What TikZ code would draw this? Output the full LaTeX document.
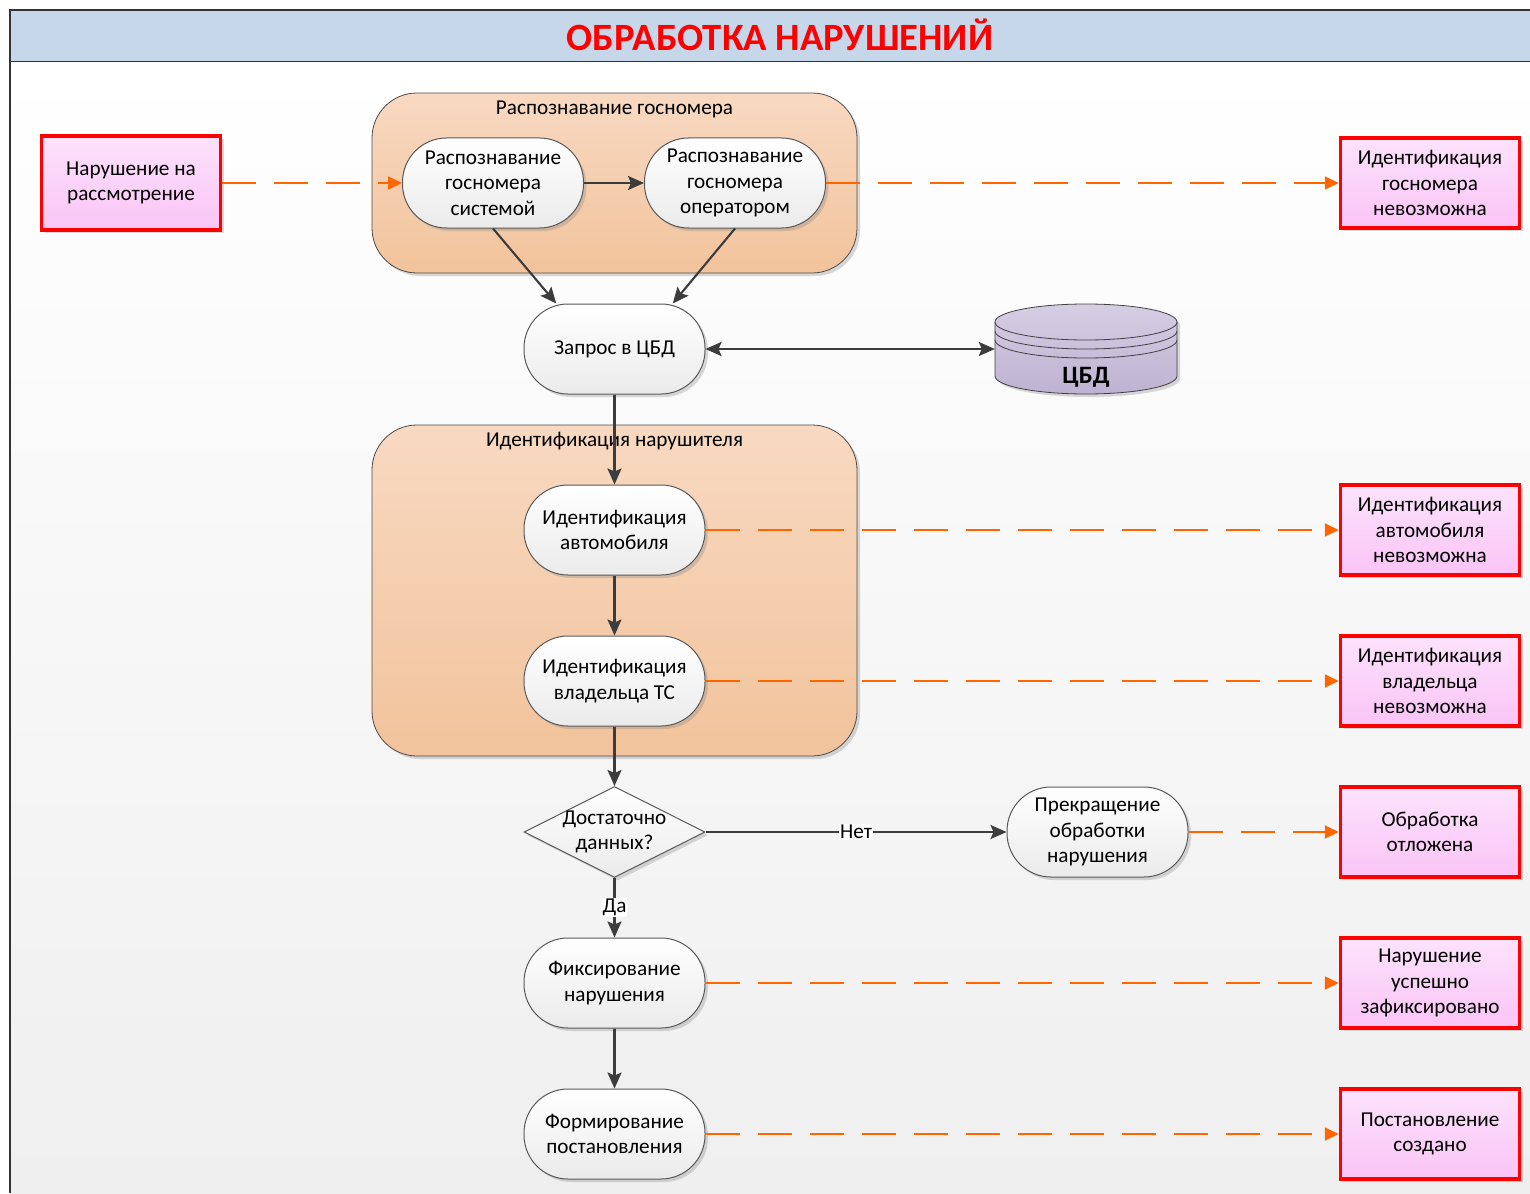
\documentclass[tikz,border=0pt]{standalone}
\usepackage{fontspec}
\setmainfont{Carlito}
\usetikzlibrary{shapes.geometric,arrows.meta,shadows}
\definecolor{titlebg}{RGB}{197,215,232}
\definecolor{peachA}{RGB}{248,217,193}
\definecolor{peachB}{RGB}{242,195,156}
\definecolor{pinkA}{RGB}{252,226,252}
\definecolor{pinkB}{RGB}{250,196,246}
\definecolor{orng}{RGB}{255,102,0}
\definecolor{edgec}{RGB}{60,60,60}
\definecolor{lavA}{RGB}{214,206,228}
\definecolor{lavB}{RGB}{190,178,210}
\definecolor{bgbot}{RGB}{239,239,239}
\begin{document}
\begin{tikzpicture}[x=1pt,y=-1pt,
  font=\fontsize{21.2}{25.5}\selectfont,
  shd/.style={drop shadow={shadow xshift=3pt,shadow yshift=-3pt,opacity=.3}},
  proc/.style={draw=gray!70!black, line width=1pt, rounded corners=44pt,
    minimum width=181pt, minimum height=90pt, inner sep=2pt, align=center,
    top color=white, bottom color=gray!16, shd},
  decis/.style={diamond, draw=gray!70!black, line width=1pt,
    minimum width=181pt, minimum height=91pt, inner sep=0pt,
    top color=white, bottom color=gray!16, shd},
  outbox/.style={draw=red, line width=3.5pt, minimum width=179pt,
    minimum height=90pt, inner sep=2pt, align=center,
    top color=pinkA, bottom color=pinkB, shd},
  grp/.style={draw=gray!60!black, line width=0.8pt, rounded corners=45pt,
    top color=peachA, bottom color=peachB, shd},
  flow/.style={draw=edgec, line width=2.1pt, -{Stealth[length=16pt,width=14pt,inset=3pt]}},
  odash/.style={draw=orng, line width=1.8pt, dash pattern=on 34pt off 18pt,
    -{Triangle[length=14pt,width=13pt]}},
  lbl/.style={fill=white, inner sep=1pt}]
\useasboundingbox (0,0) rectangle (1530,1193);
\fill[white] (0,0) rectangle (1530,1193);
\shade[top color=white, bottom color=bgbot] (10,62) rectangle (1530,1193);
\fill[titlebg] (10,10) rectangle (1530,62);
\draw[gray!40!black, line width=1.5pt] (1530,10) -- (10,10) -- (10,1193);
\draw[gray!40!black, line width=1pt] (10,62) -- (1530,62);
\node[font=\fontsize{38.6}{42}\selectfont\bfseries, text=red] (title) at (780,35) {ОБРАБОТКА НАРУШЕНИЙ};

% groups
\node[grp, minimum width=485pt, minimum height=180pt] (g1) at (614.5,183) {};
\node (g1l) at (614.5,109) {Распознавание госномера};
\node[grp, minimum width=485pt, minimum height=331pt] (g2) at (614.5,590.5) {};
\node (g2l) at (614.5,441) {Идентификация нарушителя};

% process nodes
\node[proc] (sys) at (493,183) {Распознавание\\госномера\\системой};
\node[proc] (op) at (735,183) {Распознавание\\госномера\\оператором};
\node[proc] (q) at (614.5,349) {Запрос в ЦБД};
\node[proc] (ida) at (614.5,530) {Идентификация\\автомобиля};
\node[proc] (ido) at (614.5,681) {Идентификация\\владельца ТС};
\node[decis] (dec) at (614.5,832) {};
\node[align=center] (dect) at (dec.center) {Достаточно\\данных?};
\node[proc] (stop) at (1097.5,832) {Прекращение\\обработки\\нарушения};
\node[proc] (fix) at (614.5,983) {Фиксирование\\нарушения};
\node[proc] (form) at (614.5,1134) {Формирование\\постановления};

% database cylinder
\node[minimum width=182pt, minimum height=90pt, inner sep=0pt] (cbd) at (1086,349) {};
\path[top color=lavA, bottom color=lavB, draw=gray!50!black, line width=0.8pt, shd]
  (995,322) -- (995,376) arc[start angle=180, end angle=0, x radius=91, y radius=18]
  -- (1177,322) arc[start angle=0, end angle=-180, x radius=91, y radius=18] -- cycle;
\draw[gray!50!black, line width=0.8pt] (995,322) arc[start angle=180, end angle=0, x radius=91, y radius=18];
\draw[gray!50!black, line width=0.8pt] (995,331) arc[start angle=180, end angle=0, x radius=91, y radius=18];
\draw[gray!50!black, line width=0.8pt] (995,340) arc[start angle=180, end angle=0, x radius=91, y radius=18];
\node[font=\fontsize{25}{28}\selectfont\bfseries] (cbdt) at (1086,377) {ЦБД};

% input / outputs
\node[outbox, minimum height=94pt] (in) at (131,183) {Нарушение на\\рассмотрение};
\node[outbox] (o1) at (1430,183) {Идентификация\\госномера\\невозможна};
\node[outbox] (o2) at (1430,530) {Идентификация\\автомобиля\\невозможна};
\node[outbox] (o3) at (1430,681) {Идентификация\\владельца\\невозможна};
\node[outbox] (o4) at (1430,832) {Обработка\\отложена};
\node[outbox] (o5) at (1430,983) {Нарушение\\успешно\\зафиксировано};
\node[outbox] (o6) at (1430,1134) {Постановление\\создано};

% connectors
\draw[odash] (in) -- (sys);
\draw[flow] (sys) -- (op);
\draw[odash] (op) -- (o1);
\draw[flow] (sys.south) -- (q.142);
\draw[flow] (op.south) -- (q.38);
\draw[draw=edgec, line width=2.1pt, {Stealth[length=16pt,width=14pt,inset=3pt]}-{Stealth[length=16pt,width=14pt,inset=3pt]}] (q) -- (cbd);
\draw[flow] (q) -- (ida);
\draw[flow] (ida) -- (ido);
\draw[flow] (ido) -- (dec);
\draw[flow] (dec) -- node[lbl] {Нет} (stop);
\draw[flow] (dec) -- node[lbl] {Да} (fix);
\draw[flow] (fix) -- (form);
\draw[odash] (ida) -- (o2);
\draw[odash] (ido) -- (o3);
\draw[odash] (stop) -- (o4);
\draw[odash] (fix) -- (o5);
\draw[odash] (form) -- (o6);
\end{tikzpicture}
\end{document}
